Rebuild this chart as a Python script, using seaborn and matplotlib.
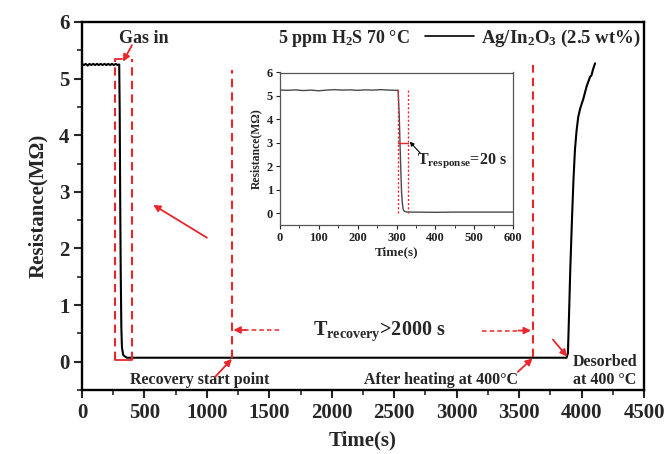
import matplotlib
matplotlib.use("Agg")
import matplotlib.pyplot as plt
import seaborn as sns
import pandas as pd
from matplotlib.ticker import MultipleLocator

# ---------------- data ----------------
time_main = [0, 15, 30, 45, 60, 75, 90, 105, 120, 135, 150, 165, 180, 195, 210,
             225, 240, 255, 270, 285, 298, 302, 306, 310, 315, 320, 330, 345, 360,
             400, 1000, 2000, 3000, 3600, 3880, 3891, 3900, 3910, 3924, 3935,
             3947, 3960, 3974, 3990, 4014, 4040, 4068, 4080, 4090, 4108]
res_main = [5.26, 5.24, 5.26, 5.23, 5.26, 5.24, 5.26, 5.24, 5.26, 5.24, 5.26,
            5.24, 5.26, 5.24, 5.26, 5.24, 5.26, 5.24, 5.26, 5.24, 5.25, 4.4,
            2.8, 1.6, 0.6, 0.25, 0.12, 0.09, 0.07, 0.07, 0.07, 0.07, 0.07, 0.07,
            0.07, 0.15, 0.85, 1.65, 2.56, 3.2, 3.74, 4.08, 4.33, 4.48, 4.64,
            4.86, 5.03, 5.06, 5.15, 5.27]

time_inset = [0, 20, 40, 60, 80, 100, 120, 140, 160, 180, 200, 220, 240, 260,
              280, 300, 304, 307, 309, 311, 313, 315, 317, 320, 325, 330, 350,
              400, 450, 500, 550, 600]
res_inset = [5.25, 5.24, 5.26, 5.23, 5.25, 5.22, 5.25, 5.27, 5.25, 5.26, 5.24,
             5.26, 5.25, 5.27, 5.25, 5.24, 5.25, 4.2, 3.0, 1.9, 0.9, 0.45, 0.17,
             0.09, 0.06, 0.05, 0.05, 0.04, 0.05, 0.05, 0.05, 0.05]

main_xticks = [0, 500, 1000, 1500, 2000, 2500, 3000, 3500, 4000, 4500]
main_yticks = [0, 1, 2, 3, 4, 5, 6]
inset_xticks = [0, 100, 200, 300, 400, 500, 600]
inset_yticks = [0, 1, 2, 3, 4, 5, 6]

series_label = r"Ag/In$_2$O$_3$ (2.5 wt%)"
condition_text = r"5 ppm H$_2$S 70 °C"

gas_lines = [264, 400]
recovery_start = 1200
heating_line = 3610
inset_resp_lines = [305, 330]

df_main = pd.DataFrame({"Time": time_main, "Resistance": res_main})
df_inset = pd.DataFrame({"Time": time_inset, "Resistance": res_inset})

# ---------------- style ----------------
sns.set_style("ticks")
plt.rcParams["font.family"] = ["Liberation Serif", "DejaVu Serif"]
plt.rcParams["font.weight"] = "bold"
plt.rcParams["axes.labelweight"] = "bold"
plt.rcParams["mathtext.fontset"] = "custom"
plt.rcParams["mathtext.rm"] = "Liberation Serif:bold"
plt.rcParams["mathtext.bf"] = "Liberation Serif:bold"
plt.rcParams["mathtext.it"] = "Liberation Serif:bold"
plt.rcParams["mathtext.default"] = "rm"

RED = "#e8262c"

fig = plt.figure(figsize=(6.68, 4.54), dpi=100)
ax = fig.add_axes([82 / 668, 1 - 390 / 454, (644 - 82) / 668, (390 - 22) / 454])

sns.lineplot(data=df_main, x="Time", y="Resistance", ax=ax, color="black",
             lw=1.5, label=series_label, estimator=None, sort=False)

ax.set_xlim(0, 4500)
ax.set_ylim(-0.5, 6)
ax.set_xticks(main_xticks)
ax.set_yticks(main_yticks)
ax.xaxis.set_minor_locator(MultipleLocator(250))
ax.yaxis.set_minor_locator(MultipleLocator(0.5))
ax.tick_params(which="major", direction="out", length=6, width=1.5,
               labelsize=15, pad=3)
ax.tick_params(which="minor", direction="out", length=3.5, width=1.2)
for lab in ax.get_xticklabels() + ax.get_yticklabels():
    lab.set_fontweight("bold")
for sp in ax.spines.values():
    sp.set_linewidth(1.7)
    sp.set_color("black")
ax.set_xlabel("Time(s)", fontsize=15, fontweight="bold", labelpad=6)
ax.set_ylabel("Resistance(MΩ)", fontsize=15, fontweight="bold", labelpad=8)

leg = ax.legend(loc="center right", bbox_to_anchor=(0.995, 0.955),
                frameon=False, fontsize=13.5, handlelength=2.6,
                handletextpad=0.4, borderpad=0, borderaxespad=0)
for t in leg.get_texts():
    t.set_fontweight("bold")
for h in leg.get_lines():
    h.set_linewidth(1.2)

# red dashed guide lines
dash = (0, (4, 2.5))
for gx in gas_lines:
    ax.plot([gx, gx], [0.03, 5.34], color=RED, lw=1.5, ls=dash)
ax.plot([gas_lines[0], 320], [5.34, 5.34], color=RED, lw=1.3)
ax.plot([gas_lines[0], gas_lines[1]], [0.03, 0.03], color=RED, lw=1.3)
ax.plot([recovery_start, recovery_start], [0.06, 5.15], color=RED, lw=1.5, ls=dash)
ax.plot([heating_line, heating_line], [0.08, 5.24], color=RED, lw=1.5, ls=dash)

# texts
ax.text(496, 5.70, "Gas in", ha="center", va="center", fontsize=13, fontweight="bold")
ax.text(1570, 5.70, condition_text, ha="left", va="center", fontsize=13, fontweight="bold")
ax.text(1850, 0.47, r"T$_{\mathrm{recovery}}$>2000 s", ha="left", va="baseline",
        fontsize=14.5, fontweight="bold")
ax.text(945, -0.33, "Recovery start point", ha="center", va="center",
        fontsize=11.5, fontweight="bold")
ax.text(2875, -0.33, "After heating at 400°C", ha="center", va="center",
        fontsize=11.5, fontweight="bold")
ax.text(3930, -0.16, "Desorbed\nat 400 °C", ha="left", va="center",
        fontsize=11.5, fontweight="bold", linespacing=1.15)

arrow_kw = dict(arrowstyle="-|>", color=RED, lw=1.3, mutation_scale=10,
                shrinkA=0, shrinkB=0)
ax.annotate("", xy=(328, 5.30), xytext=(400, 5.59), arrowprops=arrow_kw)
ax.annotate("", xy=(570, 2.77), xytext=(1000, 2.19), arrowprops=arrow_kw)
ax.annotate("", xy=(1200, 0.05), xytext=(1065, -0.27), arrowprops=arrow_kw)
ax.annotate("", xy=(3608, 0.06), xytext=(3490, -0.18), arrowprops=arrow_kw)
ax.annotate("", xy=(3885, 0.09), xytext=(3771, 0.39), arrowprops=arrow_kw)
# dashed horizontal arrows
ax.plot([1300, 1585], [0.56, 0.56], color=RED, lw=1.1, ls=(0, (3, 2)))
ax.annotate("", xy=(1212, 0.56), xytext=(1310, 0.56), arrowprops=arrow_kw)
ax.plot([3203, 3500], [0.55, 0.55], color=RED, lw=1.1, ls=(0, (3, 2)))
ax.annotate("", xy=(3595, 0.55), xytext=(3495, 0.55), arrowprops=arrow_kw)

# ---------------- inset ----------------
ins = fig.add_axes([280 / 668, 1 - 225 / 454, (513 - 280) / 668, (225 - 72.5) / 454])
sns.lineplot(data=df_inset, x="Time", y="Resistance", ax=ins, color="#4a4a4a",
             lw=1.0, estimator=None, sort=False, legend=False)
ins.set_xlim(0, 600)
ins.set_ylim(-0.5, 6)
ins.set_xticks(inset_xticks)
ins.set_yticks(inset_yticks)
ins.xaxis.set_minor_locator(MultipleLocator(50))
ins.tick_params(which="major", direction="out", length=3, width=0.8,
                labelsize=9, pad=2, colors="#222222")
ins.tick_params(which="minor", direction="out", length=2, width=0.7, color="#333333")
for lab in ins.get_xticklabels() + ins.get_yticklabels():
    lab.set_fontweight("bold")
for sp in ins.spines.values():
    sp.set_linewidth(0.9)
    sp.set_color("#555555")
ins.set_xlabel("Time(s)", fontsize=9.5, fontweight="bold", labelpad=2)
ins.set_ylabel("Resistance(MΩ)", fontsize=8.5, fontweight="bold", labelpad=3)

for rx in inset_resp_lines:
    ins.plot([rx, rx], [0.0, 5.3], color=RED, lw=1.0, ls=(0, (1.5, 1.5)))
ins.plot(inset_resp_lines, [3.0, 3.0], color=RED, lw=1.0)
ins.annotate("", xy=(334, 3.05), xytext=(362, 2.55),
             arrowprops=dict(arrowstyle="-|>", color="black", lw=0.8,
                             mutation_scale=6, shrinkA=0, shrinkB=0))
ins.text(352, 2.25, r"T$_{\mathrm{response}}$=20 s", ha="left", va="center",
         fontsize=11.5, fontweight="bold")

fig.savefig("out.png", dpi=100)
